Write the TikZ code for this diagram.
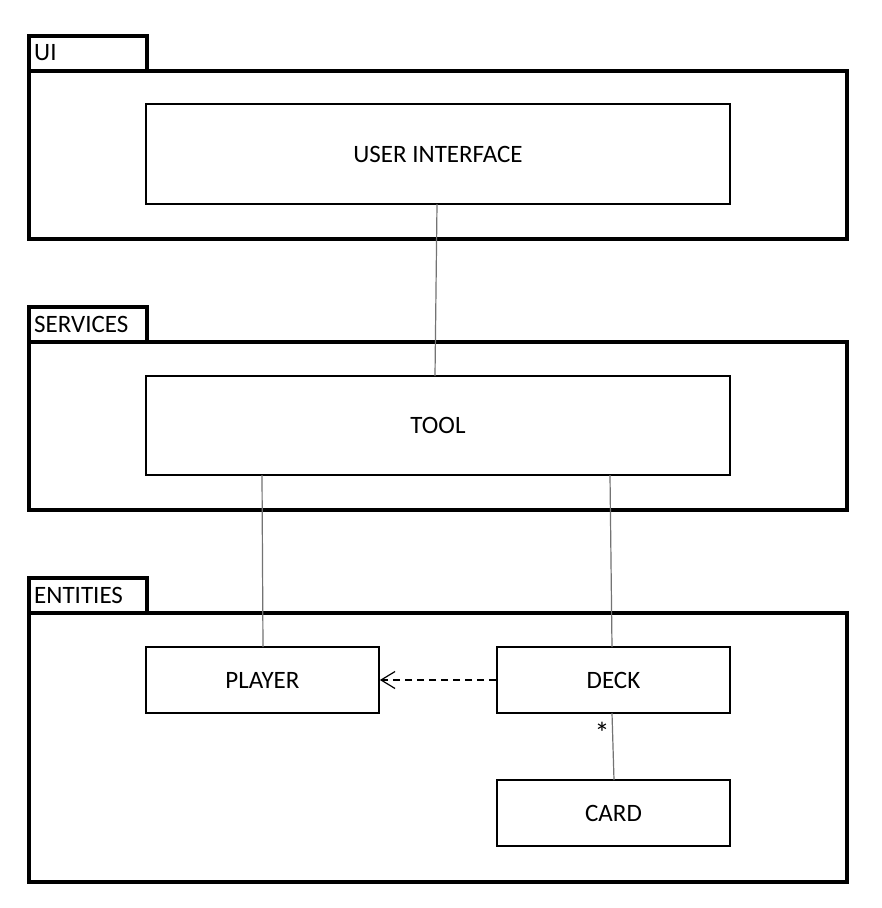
\documentclass[tikz,border=0pt]{standalone}
\usepackage{fontspec}
\setmainfont{Carlito}
\usetikzlibrary{arrows.meta}
\begin{document}
\begin{tikzpicture}[x=1pt,y=-1pt,
  pkg/.style={draw=black,line width=4pt},
  tabbox/.style={draw=black,line width=4pt},
  cls/.style={draw=black,line width=1.8pt,inner sep=0pt,font=\fontsize{25}{30}\selectfont},
  link/.style={draw=black!55,line width=1.2pt},
  tablabel/.style={anchor=west,inner sep=0pt,font=\fontsize{25}{30}\selectfont}]
\useasboundingbox (0,0) rectangle (882,908);
\fill[white] (0,0) rectangle (882,908);
% UI package
\draw[tabbox] (29,71) -- (29,36) -- (147,36) -- (147,71);
\draw[pkg] (29,71) rectangle (847,239);
\node[tablabel] (tUI) at (34,53) {UI};
% SERVICES package
\draw[tabbox] (29,342) -- (29,307) -- (147,307) -- (147,342);
\draw[pkg] (29,342) rectangle (847,510);
\node[tablabel] (tSV) at (34,324) {SERVICES};
% ENTITIES package
\draw[tabbox] (29,613) -- (29,578) -- (147,578) -- (147,613);
\draw[pkg] (29,613) rectangle (847,882);
\node[tablabel] (tEN) at (34,595) {ENTITIES};
% classes
\node[cls,minimum width=584pt,minimum height=100pt] (ui) at (438,154) {USER INTERFACE};
\node[cls,minimum width=584pt,minimum height=99pt] (tool) at (438,425.5) {TOOL};
\node[cls,minimum width=233pt,minimum height=66pt] (player) at (262.5,680) {PLAYER};
\node[cls,minimum width=233pt,minimum height=66pt] (deck) at (613.5,680) {DECK};
\node[cls,minimum width=233pt,minimum height=66pt] (card) at (613.5,813) {CARD};
% connectors
\coordinate (a1) at (437,204);
\coordinate (a2) at (435,376);
\draw[link] (a1) -- (a2);
\coordinate (b1) at (262,475);
\coordinate (b2) at (263,647);
\draw[link] (b1) -- (b2);
\coordinate (c1) at (610,475);
\coordinate (c2) at (612,647);
\draw[link] (c1) -- (c2);
\coordinate (d1) at (612,713);
\coordinate (d2) at (614,780);
\draw[link] (d1) -- (d2);
\node[font=\fontsize{30}{36}\selectfont,inner sep=0pt] (star) at (602,733) {*};
\draw[black,line width=1.2pt,dash pattern=on 7pt off 5pt,-{Straight Barb[length=14pt,width=17pt,line width=1.2pt]}] (deck.west) -- (player.east);
\end{tikzpicture}
\end{document}
